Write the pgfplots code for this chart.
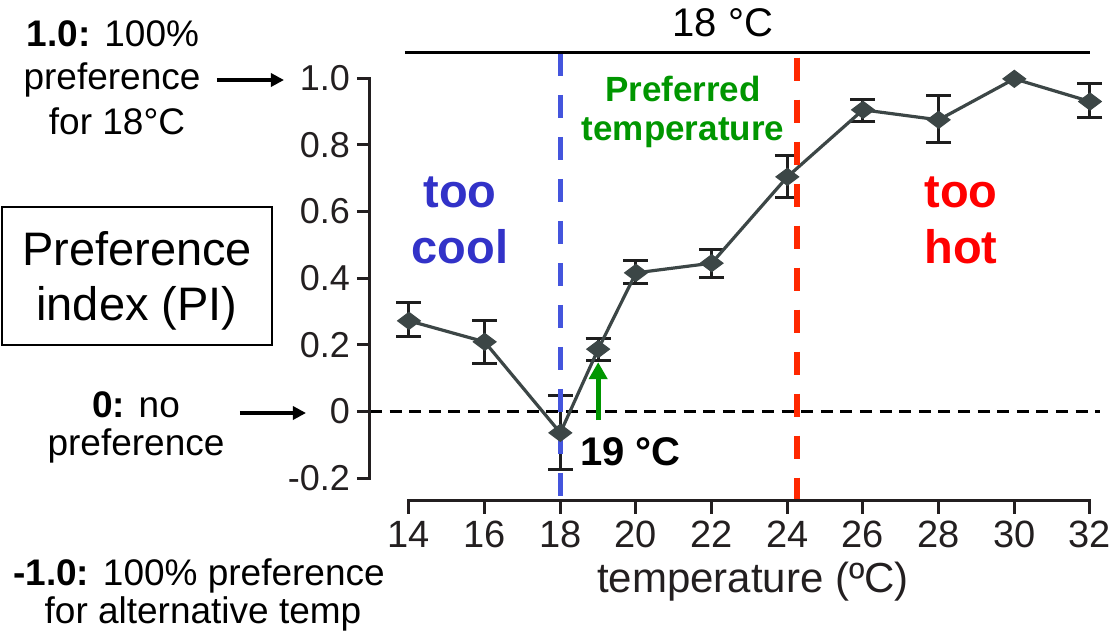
\documentclass[border=0pt]{standalone}
\usepackage{fontspec}
\setmainfont{Liberation Sans}
\usepackage{pgfplots}
\pgfplotsset{compat=1.18}
\usetikzlibrary{arrows.meta}

\definecolor{axc}{RGB}{35,31,32}
\definecolor{linec}{RGB}{60,70,70}
\definecolor{errc}{RGB}{30,30,30}
\definecolor{coolline}{RGB}{68,85,221}
\definecolor{cooltext}{RGB}{50,50,200}
\definecolor{hotline}{RGB}{255,40,0}
\definecolor{hottext}{RGB}{255,0,0}
\definecolor{prefgreen}{RGB}{0,150,0}

% PI per temperature, asymmetric error bars
\pgfplotstableread{
x   y      ep     em
14  0.272  0.054  0.048
16  0.209  0.063  0.066
18  -0.064 0.111  0.109
19  0.187  0.031  0.035
20  0.416  0.036  0.033
22  0.445  0.042  0.042
24  0.704  0.063  0.061
26  0.905  0.032  0.036
28  0.875  0.072  0.067
32  0.930  0.055  0.047
}\errdata
\pgfplotstableread{
x   y
14  0.272
16  0.209
18  -0.064
19  0.187
20  0.416
22  0.445
24  0.704
26  0.905
28  0.875
30  0.998
32  0.930
}\pidata

\begin{document}
\begin{tikzpicture}
\begin{axis}[
  scale only axis,
  width=360pt, height=224pt,
  xmin=12.969, xmax=32, ymin=-0.2685, ymax=1.0756,
  axis x line*=bottom, axis y line*=left,
  axis line style={draw=none},
  xtick={14,16,...,32},
  ytick={-0.2,0,0.2,0.4,0.6,0.8,1.0},
  yticklabels={-0.2,0,0.2,0.4,0.6,0.8,1.0},
  tick align=outside,
  major tick length=6.5pt,
  tick style={line width=1.5pt, color=axc},
  /pgf/number format/assume math mode=true,
  xticklabel style={font=\fontsize{19}{21}\selectfont, text=axc},
  yticklabel style={font=\fontsize{18}{20}\selectfont, text=axc},
  clip=false,
]
% zero reference
\draw[black, line width=1.25pt, dash pattern=on 6pt off 3.8pt]
  (axis cs:12.969,0) -- (axis cs:32.26,0);

% error bars
\addplot[draw=none, mark=none, forget plot,
  error bars/.cd, y dir=both, y explicit,
  error bar style={draw=errc, line width=1.5pt},
  error mark options={draw=errc, rotate=90, mark size=6.25pt, line width=1.5pt}]
  table[x=x, y=y, y error plus=ep, y error minus=em] {\errdata};

% PI line
\addplot[color=linec, line width=1.6pt, mark=diamond*, mark size=5.7pt,
  mark options={rotate=90, fill=linec, draw=linec, line width=0.5pt}]
  table[x=x, y=y] {\pidata};

% zone boundaries
\draw[coolline, line width=2.75pt, dash pattern=on 11.5pt off 9.5pt]
  (axis cs:18,1.0756) -- (axis cs:18,-0.2685);
\draw[hotline, line width=2.75pt, dash pattern=on 11.5pt off 9.5pt]
  (axis cs:24.26,1.062) -- (axis cs:24.26,-0.2685);

% spines
\draw[axc, line width=1.5pt, line cap=rect] (axis cs:12.969,-0.2) -- (axis cs:12.969,1.0);
\draw[axc, line width=1.5pt, line cap=rect] (axis cs:14,-0.2685) -- (axis cs:32,-0.2685);
% 18 C bar
\draw[black, line width=1.5pt] (axis cs:13.89,1.0756) -- (axis cs:32,1.0756);

% 19 C arrow
\draw[prefgreen, line width=2.5pt, -{Triangle[length=8.5pt,width=9pt]}]
  (axis cs:19,-0.026) -- (axis cs:19,0.148);

\coordinate (O) at (axis cs:14,0);
\end{axis}

% annotations, in pixels of the reference (x right, y down)
\begin{scope}[shift={(O)}, x=0.5pt, y=-0.5pt, shift={(-409,-411.5)},
  every node/.style={inner sep=0pt, anchor=base}]
\node[font=\fontsize{20}{24}\selectfont] at (723,37) {18 °C};

\node[font=\fontsize{23.5}{28}\selectfont\bfseries, text=cooltext] at (460,207) {too};
\node[font=\fontsize{23.5}{28}\selectfont\bfseries, text=cooltext] at (460,263) {cool};
\node[font=\fontsize{23.5}{28}\selectfont\bfseries, text=hottext] at (961,207) {too};
\node[font=\fontsize{23.5}{28}\selectfont\bfseries, text=hottext] at (961,263) {hot};

\node[font=\fontsize{17.5}{20}\selectfont\bfseries, text=prefgreen] at (683,102) {Preferred};
\node[font=\fontsize{17.5}{20}\selectfont\bfseries, text=prefgreen] at (683,140) {temperature};

\node[font=\fontsize{20}{24}\selectfont\bfseries, anchor=base west] at (580,465) {19 °C};

\node[font=\fontsize{21}{24}\selectfont, text=axc] at (753,592) {temperature (ºC)};

\draw[black, line width=1pt] (2,207) rectangle (272,345);
\node[font=\fontsize{23.5}{28}\selectfont] at (137,265) {Preference};
\node[font=\fontsize{23.5}{28}\selectfont] at (137,320) {index (PI)};

\node[font=\fontsize{18.5}{22}\selectfont] at (113,47) {\textbf{1.0:} 100\%};
\node[font=\fontsize{18.5}{22}\selectfont] at (112,89) {preference};
\node[font=\fontsize{18.5}{22}\selectfont] at (117,135) {for 18°C};
\draw[black, line width=1.6pt, -{Triangle[length=6.5pt,width=6.5pt]}] (217,80) -- (284,80);

\node[font=\fontsize{18.5}{22}\selectfont] at (136,417) {\textbf{0:} no};
\node[font=\fontsize{18.5}{22}\selectfont] at (136,455) {preference};
\draw[black, line width=1.6pt, -{Triangle[length=6.5pt,width=6.5pt]}] (240,413) -- (306,413);

\node[font=\fontsize{18.5}{22}\selectfont] at (199,585) {\textbf{-1.0:} 100\% preference};
\node[font=\fontsize{18.5}{22}\selectfont] at (203,623) {for alternative temp};

\pgfresetboundingbox
\path[use as bounding box] (0,0) rectangle (1109,633);
\end{scope}
\end{tikzpicture}
\end{document}
